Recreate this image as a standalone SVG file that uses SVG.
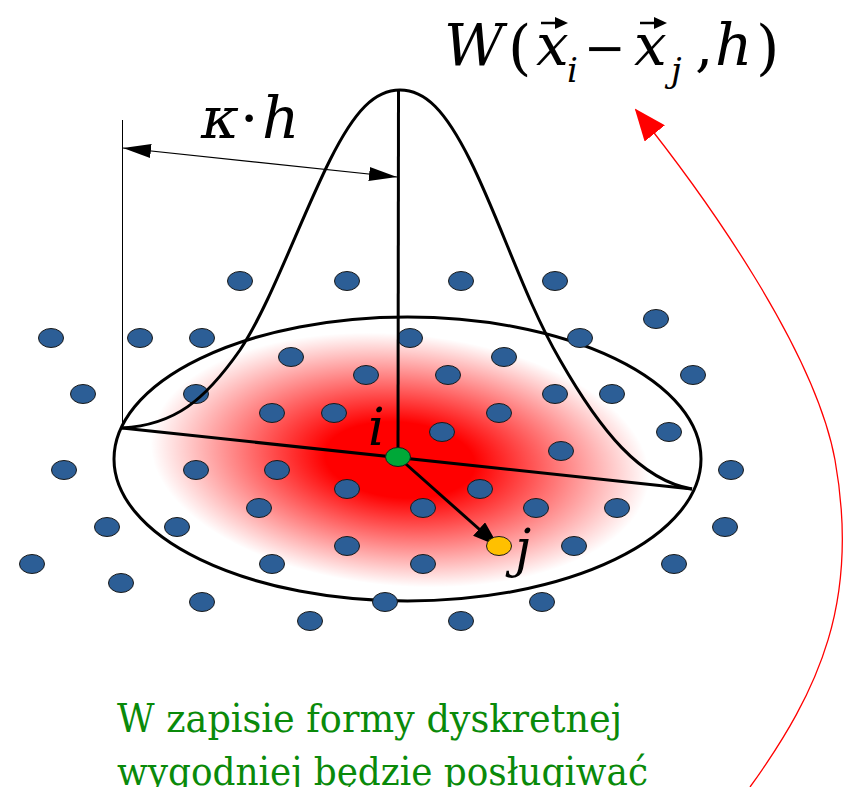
<svg xmlns="http://www.w3.org/2000/svg" width="853" height="787" viewBox="0 0 853 787">
<style>
.p{fill:#2C5E96;stroke:#1a1a1a;stroke-width:1}
.thick{fill:none;stroke:#000;stroke-width:3}
.math{font-family:'DejaVu Serif',serif;font-style:italic;fill:#000}
.up{font-family:'DejaVu Serif',serif;fill:#000}
.green{font-family:'DejaVu Serif',serif;fill:#0A8A0A;font-size:40px}
</style>
<defs>
<radialGradient id="glow" cx="0.5" cy="0.5" r="0.5">
<stop offset="0" stop-color="#ff0000" stop-opacity="1"/>
<stop offset="0.3" stop-color="#ff0000" stop-opacity="1"/>
<stop offset="0.65" stop-color="#ff0000" stop-opacity="0.5"/>
<stop offset="1" stop-color="#ff0000" stop-opacity="0"/>
</radialGradient>
<marker id="dimA" markerWidth="28" markerHeight="14" refX="28" refY="7" orient="auto-start-reverse" markerUnits="userSpaceOnUse">
<path d="M0,0 L28,7 L0,14 Z" fill="#000"/>
</marker>
<marker id="ijA" markerWidth="26" markerHeight="18" refX="24" refY="9" orient="auto" markerUnits="userSpaceOnUse">
<path d="M0,0 L26,9 L0,18 Z" fill="#000"/>
</marker>
<marker id="redA" markerWidth="32" markerHeight="26" refX="30" refY="13" orient="auto" markerUnits="userSpaceOnUse">
<path d="M0,0 L32,13 L0,26 Z" fill="#ff0000"/>
</marker>
</defs>
<rect width="853" height="787" fill="#fff"/>

<g id="kernel-support">
<ellipse cx="400" cy="460" rx="250" ry="126" fill="url(#glow)" transform="rotate(5 400 460)"/>
<ellipse cx="407.5" cy="459" rx="293.5" ry="142" class="thick"/>
</g>

<g id="particles">
<ellipse class="p" cx="240" cy="281" rx="12.5" ry="9.5"/>
<ellipse class="p" cx="347" cy="281" rx="12.5" ry="9.5"/>
<ellipse class="p" cx="461" cy="281" rx="12.5" ry="9.5"/>
<ellipse class="p" cx="555" cy="281" rx="12.5" ry="9.5"/>
<ellipse class="p" cx="656" cy="319" rx="12.5" ry="9.5"/>
<ellipse class="p" cx="51" cy="338" rx="12.5" ry="9.5"/>
<ellipse class="p" cx="140" cy="338" rx="12.5" ry="9.5"/>
<ellipse class="p" cx="202" cy="338" rx="12.5" ry="9.5"/>
<ellipse class="p" cx="410" cy="338" rx="12.5" ry="9.5"/>
<ellipse class="p" cx="580" cy="338" rx="12.5" ry="9.5"/>
<ellipse class="p" cx="291" cy="357" rx="12.5" ry="9.5"/>
<ellipse class="p" cx="504" cy="357" rx="12.5" ry="9.5"/>
<ellipse class="p" cx="366" cy="375" rx="12.5" ry="9.5"/>
<ellipse class="p" cx="448" cy="375" rx="12.5" ry="9.5"/>
<ellipse class="p" cx="693" cy="375" rx="12.5" ry="9.5"/>
<ellipse class="p" cx="83" cy="394" rx="12.5" ry="9.5"/>
<ellipse class="p" cx="196" cy="394" rx="12.5" ry="9.5"/>
<ellipse class="p" cx="555" cy="394" rx="12.5" ry="9.5"/>
<ellipse class="p" cx="612" cy="394" rx="12.5" ry="9.5"/>
<ellipse class="p" cx="272" cy="413" rx="12.5" ry="9.5"/>
<ellipse class="p" cx="334" cy="413" rx="12.5" ry="9.5"/>
<ellipse class="p" cx="499" cy="413" rx="12.5" ry="9.5"/>
<ellipse class="p" cx="442" cy="432" rx="12.5" ry="9.5"/>
<ellipse class="p" cx="669" cy="432" rx="12.5" ry="9.5"/>
<ellipse class="p" cx="561" cy="451" rx="12.5" ry="9.5"/>
<ellipse class="p" cx="64" cy="470" rx="12.5" ry="9.5"/>
<ellipse class="p" cx="196" cy="470" rx="12.5" ry="9.5"/>
<ellipse class="p" cx="277" cy="470" rx="12.5" ry="9.5"/>
<ellipse class="p" cx="731" cy="470" rx="12.5" ry="9.5"/>
<ellipse class="p" cx="347" cy="489" rx="12.5" ry="9.5"/>
<ellipse class="p" cx="480" cy="489" rx="12.5" ry="9.5"/>
<ellipse class="p" cx="259" cy="508" rx="12.5" ry="9.5"/>
<ellipse class="p" cx="423" cy="508" rx="12.5" ry="9.5"/>
<ellipse class="p" cx="536" cy="508" rx="12.5" ry="9.5"/>
<ellipse class="p" cx="617" cy="508" rx="12.5" ry="9.5"/>
<ellipse class="p" cx="107" cy="527" rx="12.5" ry="9.5"/>
<ellipse class="p" cx="177" cy="527" rx="12.5" ry="9.5"/>
<ellipse class="p" cx="725" cy="527" rx="12.5" ry="9.5"/>
<ellipse class="p" cx="347" cy="546" rx="12.5" ry="9.5"/>
<ellipse class="p" cx="574" cy="546" rx="12.5" ry="9.5"/>
<ellipse class="p" cx="32" cy="564" rx="12.5" ry="9.5"/>
<ellipse class="p" cx="272" cy="564" rx="12.5" ry="9.5"/>
<ellipse class="p" cx="423" cy="564" rx="12.5" ry="9.5"/>
<ellipse class="p" cx="674" cy="564" rx="12.5" ry="9.5"/>
<ellipse class="p" cx="121" cy="583" rx="12.5" ry="9.5"/>
<ellipse class="p" cx="202" cy="602" rx="12.5" ry="9.5"/>
<ellipse class="p" cx="385" cy="602" rx="12.5" ry="9.5"/>
<ellipse class="p" cx="542" cy="602" rx="12.5" ry="9.5"/>
<ellipse class="p" cx="310" cy="621" rx="12.5" ry="9.5"/>
<ellipse class="p" cx="461" cy="621" rx="12.5" ry="9.5"/>
</g>

<g id="kernel-curve">
<path class="thick" d="M122,428 C175,425 205,400 240,350 C270,305 300,220 330,160 C355,110 375,90 400,90 C425,90 445,110 470,160 C500,220 525,300 560,360 C600,430 640,480 692,489"/>
<line x1="398.5" y1="90" x2="398" y2="457" stroke="#000" stroke-width="3"/>
<line x1="122" y1="428" x2="692" y2="489" stroke="#000" stroke-width="3"/>
</g>

<g id="connectors">
<line x1="122.5" y1="120" x2="122.5" y2="428" stroke="#000" stroke-width="1"/>
<line x1="123" y1="148" x2="397" y2="177" stroke="#000" stroke-width="1.2" marker-start="url(#dimA)" marker-end="url(#dimA)"/>
<line x1="398" y1="457" x2="497" y2="545" stroke="#000" stroke-width="3" marker-end="url(#ijA)"/>
<path d="M750,787 C820,690 860,600 835,460 C815,350 705,196 636,110" fill="none" stroke="#ff0000" stroke-width="1.3" marker-end="url(#redA)"/>
</g>

<g id="particle-i">
<ellipse cx="398" cy="457" rx="12.5" ry="9.5" fill="#00A838" stroke="#1a1a1a" stroke-width="1"/>
<text class="math" x="368" y="445" font-size="52">i</text>
</g>
<g id="particle-j">
<ellipse cx="499" cy="546" rx="12.5" ry="9.5" fill="#FFC000" stroke="#1a1a1a" stroke-width="1"/>
<text class="math" x="515" y="566" font-size="52">j</text>
</g>

<g id="label-kh">
<text class="math" x="201" y="138" font-size="58">κ</text>
<text class="up" x="240" y="138" font-size="58">·</text>
<text class="math" x="262" y="138" font-size="58">h</text>
</g>

<g id="label-W">
<text class="math" x="444" y="65" font-size="58">W</text>
<text class="up" x="508" y="68" font-size="60">(</text>
<text class="math" x="536" y="65" font-size="58">x</text>
<text class="math" x="567" y="82" font-size="34">i</text>
<text class="up" x="584" y="65" font-size="50">−</text>
<text class="math" x="634" y="65" font-size="58">x</text>
<text class="math" x="671" y="82" font-size="34">j</text>
<text class="up" x="695" y="65" font-size="58">,</text>
<text class="math" x="715" y="65" font-size="58">h</text>
<text class="up" x="756" y="68" font-size="60">)</text>
<path d="M541,23 H558" stroke="#000" stroke-width="2.5"/>
<path d="M555,17 L568,23 L555,29 Z" fill="#000"/>
<path d="M640,23 H657" stroke="#000" stroke-width="2.5"/>
<path d="M654,17 L667,23 L654,29 Z" fill="#000"/>
</g>

<g id="caption">
<text class="green" x="117" y="732" textLength="505" lengthAdjust="spacingAndGlyphs">W zapisie formy dyskretnej</text>
<text class="green" x="117" y="785" textLength="531" lengthAdjust="spacingAndGlyphs">wygodniej będzie posługiwać</text>
</g>
</svg>
